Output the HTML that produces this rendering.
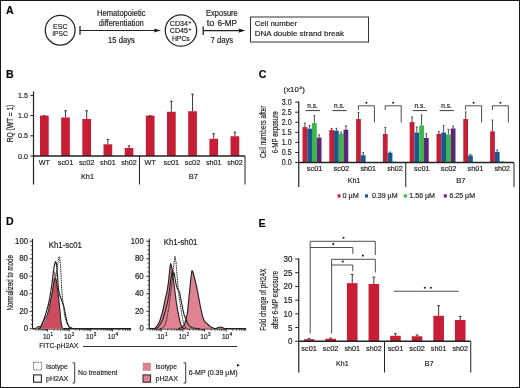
<!DOCTYPE html>
<html><head><meta charset="utf-8"><style>
html,body{margin:0;padding:0;background:#fff;}
svg{display:block;will-change:transform;font-family:"Liberation Sans", sans-serif;}
body{font-family:"Liberation Sans", sans-serif;}
text{stroke:#222;stroke-width:0.18px;font-family:"Liberation Sans", sans-serif;}
</style></head><body>
<svg width="520" height="388" viewBox="0 0 520 388" fill="#222">
<rect width="520" height="388" fill="#fff"/>
<rect x="0.5" y="0.5" width="519" height="387" fill="none" stroke="#1a1a1a" stroke-width="1"/>
<text x="6.00" y="14.00" font-size="10.6" font-weight="bold" fill="#000">A</text>
<circle cx="60.2" cy="30.2" r="14.9" fill="none" stroke="#222" stroke-width="1.25"/>
<text x="60.40" y="29.00" font-size="7.7" text-anchor="middle" textLength="14.60" lengthAdjust="spacingAndGlyphs">ESC</text>
<text x="60.20" y="36.30" font-size="7.7" text-anchor="middle" textLength="15.20" lengthAdjust="spacingAndGlyphs">iPSC</text>
<line x1="80.00" y1="26.10" x2="80.00" y2="34.80" stroke="#222" stroke-width="1.3"/>
<line x1="80.00" y1="30.50" x2="156.00" y2="30.50" stroke="#222" stroke-width="1.2"/>
<polygon points="160.90,30.50 153.60,28.40 155.20,30.50 153.60,32.60" fill="#111"/>
<text x="121.30" y="16.00" font-size="8.25" text-anchor="middle" textLength="48.50" lengthAdjust="spacingAndGlyphs">Hematopoietic</text>
<text x="121.30" y="25.70" font-size="8.25" text-anchor="middle" textLength="45.00" lengthAdjust="spacingAndGlyphs">differentiation</text>
<text x="121.50" y="42.80" font-size="8.25" text-anchor="middle" textLength="26.80" lengthAdjust="spacingAndGlyphs">15 days</text>
<circle cx="181" cy="30.5" r="15.7" fill="none" stroke="#222" stroke-width="1.25"/>
<text x="169.80" y="26.10" font-size="7.48" textLength="18.20" lengthAdjust="spacingAndGlyphs">CD34</text>
<text x="188.60" y="23.60" font-size="4.95">+</text>
<text x="169.80" y="33.00" font-size="7.48" textLength="18.20" lengthAdjust="spacingAndGlyphs">CD45</text>
<text x="188.60" y="30.50" font-size="4.95">+</text>
<text x="171.90" y="40.60" font-size="7.48" textLength="17.90" lengthAdjust="spacingAndGlyphs">HPCs</text>
<line x1="203.20" y1="26.40" x2="203.20" y2="35.10" stroke="#222" stroke-width="1.3"/>
<line x1="203.20" y1="30.60" x2="240.00" y2="30.60" stroke="#222" stroke-width="1.2"/>
<polygon points="245.40,30.60 238.10,28.50 239.70,30.60 238.10,32.70" fill="#111"/>
<text x="206.00" y="16.00" font-size="8.25" textLength="31.80" lengthAdjust="spacingAndGlyphs">Exposure</text>
<text x="206.70" y="25.80" font-size="8.25" textLength="7.60" lengthAdjust="spacingAndGlyphs">to</text>
<text x="217.50" y="25.80" font-size="8.25" textLength="19.60" lengthAdjust="spacingAndGlyphs">6-MP</text>
<text x="210.60" y="42.50" font-size="8.25" textLength="22.60" lengthAdjust="spacingAndGlyphs">7 days</text>
<rect x="250.5" y="17" width="118" height="25" fill="none" stroke="#333" stroke-width="1"/>
<text x="254.80" y="26.30" font-size="7.9" textLength="42.20" lengthAdjust="spacingAndGlyphs">Cell number</text>
<text x="254.80" y="36.40" font-size="7.9" textLength="89.20" lengthAdjust="spacingAndGlyphs">DNA double strand break</text>
<text x="6.00" y="78.00" font-size="10.6" font-weight="bold" fill="#000">B</text>
<line x1="33.50" y1="91.30" x2="33.50" y2="184.50" stroke="#222" stroke-width="1.2"/>
<line x1="30.30" y1="95.40" x2="33.50" y2="95.40" stroke="#222" stroke-width="1"/>
<text x="28.00" y="98.00" font-size="7.92" text-anchor="end" textLength="9.90" lengthAdjust="spacingAndGlyphs">1.5</text>
<line x1="30.30" y1="115.60" x2="33.50" y2="115.60" stroke="#222" stroke-width="1"/>
<text x="28.00" y="118.20" font-size="7.92" text-anchor="end" textLength="9.90" lengthAdjust="spacingAndGlyphs">1.0</text>
<line x1="30.30" y1="135.80" x2="33.50" y2="135.80" stroke="#222" stroke-width="1"/>
<text x="28.00" y="138.40" font-size="7.92" text-anchor="end" textLength="9.90" lengthAdjust="spacingAndGlyphs">0.5</text>
<line x1="30.30" y1="156.00" x2="33.50" y2="156.00" stroke="#222" stroke-width="1"/>
<text x="28.00" y="158.60" font-size="7.92" text-anchor="end" textLength="9.90" lengthAdjust="spacingAndGlyphs">0.0</text>
<text x="12.60" y="123.50" font-size="8.7" text-anchor="middle" textLength="37.60" lengthAdjust="spacingAndGlyphs" transform="rotate(-90 12.60 123.50)">RQ (WT = 1)</text>
<rect x="40.00" y="115.60" width="8.70" height="40.40" fill="#c71e35"/>
<line x1="43.15" y1="115.80" x2="45.55" y2="115.80" stroke="#222" stroke-width="0.9"/>
<text x="44.35" y="165.30" font-size="8.03" text-anchor="middle" textLength="11.20" lengthAdjust="spacingAndGlyphs">WT</text>
<line x1="65.52" y1="110.75" x2="65.52" y2="117.50" stroke="#222" stroke-width="0.9"/>
<line x1="64.22" y1="110.75" x2="66.82" y2="110.75" stroke="#222" stroke-width="0.9"/>
<rect x="61.17" y="117.50" width="8.70" height="38.50" fill="#c71e35"/>
<text x="65.52" y="165.30" font-size="8.03" text-anchor="middle" textLength="15.50" lengthAdjust="spacingAndGlyphs">sc01</text>
<line x1="86.69" y1="110.75" x2="86.69" y2="118.99" stroke="#222" stroke-width="0.9"/>
<line x1="85.39" y1="110.75" x2="87.99" y2="110.75" stroke="#222" stroke-width="0.9"/>
<rect x="82.34" y="118.99" width="8.70" height="37.01" fill="#c71e35"/>
<text x="86.69" y="165.30" font-size="8.03" text-anchor="middle" textLength="15.50" lengthAdjust="spacingAndGlyphs">sc02</text>
<line x1="107.86" y1="139.44" x2="107.86" y2="144.28" stroke="#222" stroke-width="0.9"/>
<line x1="106.56" y1="139.44" x2="109.16" y2="139.44" stroke="#222" stroke-width="0.9"/>
<rect x="103.51" y="144.28" width="8.70" height="11.72" fill="#c71e35"/>
<text x="107.86" y="165.30" font-size="8.03" text-anchor="middle" textLength="15.50" lengthAdjust="spacingAndGlyphs">sh01</text>
<line x1="129.03" y1="145.90" x2="129.03" y2="148.00" stroke="#222" stroke-width="0.9"/>
<line x1="127.73" y1="145.90" x2="130.33" y2="145.90" stroke="#222" stroke-width="0.9"/>
<rect x="124.68" y="148.00" width="8.70" height="8.00" fill="#c71e35"/>
<text x="129.03" y="165.30" font-size="8.03" text-anchor="middle" textLength="15.50" lengthAdjust="spacingAndGlyphs">sh02</text>
<rect x="145.85" y="115.60" width="8.70" height="40.40" fill="#c71e35"/>
<line x1="149.00" y1="115.80" x2="151.40" y2="115.80" stroke="#222" stroke-width="0.9"/>
<text x="150.20" y="165.30" font-size="8.03" text-anchor="middle" textLength="11.20" lengthAdjust="spacingAndGlyphs">WT</text>
<line x1="171.37" y1="101.26" x2="171.37" y2="111.76" stroke="#222" stroke-width="0.9"/>
<line x1="170.07" y1="101.26" x2="172.67" y2="101.26" stroke="#222" stroke-width="0.9"/>
<rect x="167.02" y="111.76" width="8.70" height="44.24" fill="#c71e35"/>
<text x="171.37" y="165.30" font-size="8.03" text-anchor="middle" textLength="15.50" lengthAdjust="spacingAndGlyphs">sc01</text>
<line x1="192.54" y1="94.19" x2="192.54" y2="111.24" stroke="#222" stroke-width="0.9"/>
<line x1="191.24" y1="94.19" x2="193.84" y2="94.19" stroke="#222" stroke-width="0.9"/>
<rect x="188.19" y="111.24" width="8.70" height="44.76" fill="#c71e35"/>
<text x="192.54" y="165.30" font-size="8.03" text-anchor="middle" textLength="15.50" lengthAdjust="spacingAndGlyphs">sc02</text>
<line x1="213.71" y1="133.78" x2="213.71" y2="138.75" stroke="#222" stroke-width="0.9"/>
<line x1="212.41" y1="133.78" x2="215.01" y2="133.78" stroke="#222" stroke-width="0.9"/>
<rect x="209.36" y="138.75" width="8.70" height="17.25" fill="#c71e35"/>
<text x="213.71" y="165.30" font-size="8.03" text-anchor="middle" textLength="15.50" lengthAdjust="spacingAndGlyphs">sh01</text>
<line x1="234.88" y1="132.16" x2="234.88" y2="136.24" stroke="#222" stroke-width="0.9"/>
<line x1="233.58" y1="132.16" x2="236.18" y2="132.16" stroke="#222" stroke-width="0.9"/>
<rect x="230.53" y="136.24" width="8.70" height="19.76" fill="#c71e35"/>
<text x="234.88" y="165.30" font-size="8.03" text-anchor="middle" textLength="15.50" lengthAdjust="spacingAndGlyphs">sh02</text>
<line x1="33.50" y1="156.00" x2="245.00" y2="156.00" stroke="#222" stroke-width="1.35"/>
<line x1="139.50" y1="156.00" x2="139.50" y2="184.50" stroke="#222" stroke-width="1"/>
<line x1="245.00" y1="156.00" x2="245.00" y2="184.50" stroke="#222" stroke-width="1"/>
<text x="87.50" y="178.80" font-size="8.03" text-anchor="middle" textLength="13.00" lengthAdjust="spacingAndGlyphs">Kh1</text>
<text x="193.40" y="178.80" font-size="8.03" text-anchor="middle" textLength="9.30" lengthAdjust="spacingAndGlyphs">B7</text>
<text x="258.80" y="78.00" font-size="10.6" font-weight="bold" fill="#000">C</text>
<text x="283.60" y="92.00" font-size="7.92" textLength="15.20" lengthAdjust="spacingAndGlyphs">(x10</text>
<text x="299.60" y="89.00" font-size="4.4">4</text>
<text x="302.20" y="92.00" font-size="7.92">)</text>
<line x1="298.75" y1="101.60" x2="298.75" y2="187.00" stroke="#222" stroke-width="1.2"/>
<line x1="295.20" y1="102.11" x2="298.75" y2="102.11" stroke="#222" stroke-width="1"/>
<text x="291.60" y="104.96" font-size="8.25" text-anchor="end" textLength="9.80" lengthAdjust="spacingAndGlyphs">3.0</text>
<line x1="295.20" y1="112.18" x2="298.75" y2="112.18" stroke="#222" stroke-width="1"/>
<text x="291.60" y="115.03" font-size="8.25" text-anchor="end" textLength="9.80" lengthAdjust="spacingAndGlyphs">2.5</text>
<line x1="295.20" y1="122.24" x2="298.75" y2="122.24" stroke="#222" stroke-width="1"/>
<text x="291.60" y="125.09" font-size="8.25" text-anchor="end" textLength="9.80" lengthAdjust="spacingAndGlyphs">2.0</text>
<line x1="295.20" y1="132.31" x2="298.75" y2="132.31" stroke="#222" stroke-width="1"/>
<text x="291.60" y="135.16" font-size="8.25" text-anchor="end" textLength="9.80" lengthAdjust="spacingAndGlyphs">1.5</text>
<line x1="295.20" y1="142.37" x2="298.75" y2="142.37" stroke="#222" stroke-width="1"/>
<text x="291.60" y="145.22" font-size="8.25" text-anchor="end" textLength="9.80" lengthAdjust="spacingAndGlyphs">1.0</text>
<line x1="295.20" y1="152.44" x2="298.75" y2="152.44" stroke="#222" stroke-width="1"/>
<text x="291.60" y="155.28" font-size="8.25" text-anchor="end" textLength="9.80" lengthAdjust="spacingAndGlyphs">0.5</text>
<line x1="295.20" y1="162.50" x2="298.75" y2="162.50" stroke="#222" stroke-width="1"/>
<text x="291.60" y="165.35" font-size="8.25" text-anchor="end" textLength="9.80" lengthAdjust="spacingAndGlyphs">0.0</text>
<text x="266.40" y="131.80" font-size="9.2" text-anchor="middle" textLength="52.60" lengthAdjust="spacingAndGlyphs" transform="rotate(-90 266.40 131.80)">Cell numbers after</text>
<text x="277.60" y="132.30" font-size="9.2" text-anchor="middle" textLength="42.00" lengthAdjust="spacingAndGlyphs" transform="rotate(-90 277.60 132.30)">6-MP exposure</text>
<line x1="304.88" y1="123.05" x2="304.88" y2="127.07" stroke="#222" stroke-width="0.8"/>
<line x1="303.98" y1="123.05" x2="305.77" y2="123.05" stroke="#222" stroke-width="0.8"/>
<rect x="302.50" y="127.07" width="4.75" height="35.43" fill="#c71e35"/>
<line x1="309.62" y1="125.66" x2="309.62" y2="128.68" stroke="#222" stroke-width="0.8"/>
<line x1="308.73" y1="125.66" x2="310.52" y2="125.66" stroke="#222" stroke-width="0.8"/>
<rect x="307.25" y="128.68" width="4.75" height="33.82" fill="#18588f"/>
<line x1="314.38" y1="115.60" x2="314.38" y2="123.05" stroke="#222" stroke-width="0.8"/>
<line x1="313.48" y1="115.60" x2="315.27" y2="115.60" stroke="#222" stroke-width="0.8"/>
<rect x="312.00" y="123.05" width="4.75" height="39.45" fill="#3bb64b"/>
<line x1="319.12" y1="134.92" x2="319.12" y2="137.54" stroke="#222" stroke-width="0.8"/>
<line x1="318.23" y1="134.92" x2="320.02" y2="134.92" stroke="#222" stroke-width="0.8"/>
<rect x="316.75" y="137.54" width="4.75" height="24.96" fill="#5b2673"/>
<text x="314.60" y="171.30" font-size="7.92" text-anchor="middle" textLength="15.60" lengthAdjust="spacingAndGlyphs">sc01</text>
<text x="312.55" y="108.20" font-size="6.93" text-anchor="middle" textLength="10.60" lengthAdjust="spacingAndGlyphs">n.s.</text>
<line x1="305.60" y1="110.60" x2="319.90" y2="110.60" stroke="#222" stroke-width="0.9"/>
<line x1="331.68" y1="128.48" x2="331.68" y2="130.09" stroke="#222" stroke-width="0.8"/>
<line x1="330.78" y1="128.48" x2="332.57" y2="128.48" stroke="#222" stroke-width="0.8"/>
<rect x="329.30" y="130.09" width="4.75" height="32.41" fill="#c71e35"/>
<line x1="336.43" y1="128.28" x2="336.43" y2="130.69" stroke="#222" stroke-width="0.8"/>
<line x1="335.53" y1="128.28" x2="337.32" y2="128.28" stroke="#222" stroke-width="0.8"/>
<rect x="334.05" y="130.69" width="4.75" height="31.81" fill="#18588f"/>
<line x1="341.18" y1="132.20" x2="341.18" y2="133.71" stroke="#222" stroke-width="0.8"/>
<line x1="340.28" y1="132.20" x2="342.07" y2="132.20" stroke="#222" stroke-width="0.8"/>
<rect x="338.80" y="133.71" width="4.75" height="28.79" fill="#3bb64b"/>
<line x1="345.93" y1="125.86" x2="345.93" y2="129.69" stroke="#222" stroke-width="0.8"/>
<line x1="345.03" y1="125.86" x2="346.82" y2="125.86" stroke="#222" stroke-width="0.8"/>
<rect x="343.55" y="129.69" width="4.75" height="32.81" fill="#5b2673"/>
<text x="341.40" y="171.30" font-size="7.92" text-anchor="middle" textLength="15.60" lengthAdjust="spacingAndGlyphs">sc02</text>
<text x="339.35" y="108.20" font-size="6.93" text-anchor="middle" textLength="10.60" lengthAdjust="spacingAndGlyphs">n.s.</text>
<line x1="332.40" y1="110.60" x2="346.70" y2="110.60" stroke="#222" stroke-width="0.9"/>
<line x1="358.48" y1="112.58" x2="358.48" y2="119.02" stroke="#222" stroke-width="0.8"/>
<line x1="357.58" y1="112.58" x2="359.38" y2="112.58" stroke="#222" stroke-width="0.8"/>
<rect x="356.10" y="119.02" width="4.75" height="43.48" fill="#c71e35"/>
<line x1="363.23" y1="152.44" x2="363.23" y2="155.25" stroke="#222" stroke-width="0.8"/>
<line x1="362.33" y1="152.44" x2="364.12" y2="152.44" stroke="#222" stroke-width="0.8"/>
<rect x="360.85" y="155.25" width="4.75" height="7.25" fill="#18588f"/>
<rect x="365.60" y="162.10" width="4.75" height="0.40" fill="#3bb64b"/>
<rect x="370.35" y="162.40" width="4.75" height="0.10" fill="#5b2673"/>
<text x="368.20" y="171.30" font-size="7.92" text-anchor="middle" textLength="15.60" lengthAdjust="spacingAndGlyphs">sh01</text>
<polyline points="358.40,110 358.40,105.8 374.40,105.8 374.40,122.5" fill="none" stroke="#222" stroke-width="0.8"/>
<circle cx="366.40" cy="102.80" r="1.05" fill="#222"/>
<line x1="385.27" y1="127.47" x2="385.27" y2="133.92" stroke="#222" stroke-width="0.8"/>
<line x1="384.38" y1="127.47" x2="386.17" y2="127.47" stroke="#222" stroke-width="0.8"/>
<rect x="382.90" y="133.92" width="4.75" height="28.58" fill="#c71e35"/>
<line x1="390.02" y1="152.03" x2="390.02" y2="152.84" stroke="#222" stroke-width="0.8"/>
<line x1="389.12" y1="152.03" x2="390.92" y2="152.03" stroke="#222" stroke-width="0.8"/>
<rect x="387.65" y="152.84" width="4.75" height="9.66" fill="#18588f"/>
<rect x="392.40" y="161.69" width="4.75" height="0.81" fill="#3bb64b"/>
<rect x="397.15" y="162.30" width="4.75" height="0.20" fill="#5b2673"/>
<text x="395.00" y="171.30" font-size="7.92" text-anchor="middle" textLength="15.60" lengthAdjust="spacingAndGlyphs">sh02</text>
<polyline points="385.20,110 385.20,105.8 401.20,105.8 401.20,122.5" fill="none" stroke="#222" stroke-width="0.8"/>
<circle cx="393.20" cy="102.80" r="1.05" fill="#222"/>
<line x1="412.07" y1="117.01" x2="412.07" y2="122.04" stroke="#222" stroke-width="0.8"/>
<line x1="411.18" y1="117.01" x2="412.97" y2="117.01" stroke="#222" stroke-width="0.8"/>
<rect x="409.70" y="122.04" width="4.75" height="40.46" fill="#c71e35"/>
<line x1="416.82" y1="127.07" x2="416.82" y2="132.51" stroke="#222" stroke-width="0.8"/>
<line x1="415.93" y1="127.07" x2="417.72" y2="127.07" stroke="#222" stroke-width="0.8"/>
<rect x="414.45" y="132.51" width="4.75" height="29.99" fill="#18588f"/>
<line x1="421.57" y1="114.99" x2="421.57" y2="125.46" stroke="#222" stroke-width="0.8"/>
<line x1="420.68" y1="114.99" x2="422.47" y2="114.99" stroke="#222" stroke-width="0.8"/>
<rect x="419.20" y="125.46" width="4.75" height="37.04" fill="#3bb64b"/>
<line x1="426.32" y1="133.71" x2="426.32" y2="137.94" stroke="#222" stroke-width="0.8"/>
<line x1="425.43" y1="133.71" x2="427.22" y2="133.71" stroke="#222" stroke-width="0.8"/>
<rect x="423.95" y="137.94" width="4.75" height="24.56" fill="#5b2673"/>
<text x="421.80" y="171.30" font-size="7.92" text-anchor="middle" textLength="15.60" lengthAdjust="spacingAndGlyphs">sc01</text>
<text x="419.75" y="108.20" font-size="6.93" text-anchor="middle" textLength="10.60" lengthAdjust="spacingAndGlyphs">n.s.</text>
<line x1="412.80" y1="110.60" x2="427.10" y2="110.60" stroke="#222" stroke-width="0.9"/>
<line x1="438.88" y1="131.70" x2="438.88" y2="133.92" stroke="#222" stroke-width="0.8"/>
<line x1="437.98" y1="131.70" x2="439.77" y2="131.70" stroke="#222" stroke-width="0.8"/>
<rect x="436.50" y="133.92" width="4.75" height="28.58" fill="#c71e35"/>
<line x1="443.62" y1="125.66" x2="443.62" y2="132.51" stroke="#222" stroke-width="0.8"/>
<line x1="442.73" y1="125.66" x2="444.52" y2="125.66" stroke="#222" stroke-width="0.8"/>
<rect x="441.25" y="132.51" width="4.75" height="29.99" fill="#18588f"/>
<line x1="448.38" y1="129.49" x2="448.38" y2="134.52" stroke="#222" stroke-width="0.8"/>
<line x1="447.48" y1="129.49" x2="449.27" y2="129.49" stroke="#222" stroke-width="0.8"/>
<rect x="446.00" y="134.52" width="4.75" height="27.98" fill="#3bb64b"/>
<line x1="453.12" y1="126.06" x2="453.12" y2="128.48" stroke="#222" stroke-width="0.8"/>
<line x1="452.23" y1="126.06" x2="454.02" y2="126.06" stroke="#222" stroke-width="0.8"/>
<rect x="450.75" y="128.48" width="4.75" height="34.02" fill="#5b2673"/>
<text x="448.60" y="171.30" font-size="7.92" text-anchor="middle" textLength="15.60" lengthAdjust="spacingAndGlyphs">sc02</text>
<text x="446.55" y="108.20" font-size="6.93" text-anchor="middle" textLength="10.60" lengthAdjust="spacingAndGlyphs">n.s.</text>
<line x1="439.60" y1="110.60" x2="453.90" y2="110.60" stroke="#222" stroke-width="0.9"/>
<line x1="465.68" y1="111.97" x2="465.68" y2="119.02" stroke="#222" stroke-width="0.8"/>
<line x1="464.78" y1="111.97" x2="466.57" y2="111.97" stroke="#222" stroke-width="0.8"/>
<rect x="463.30" y="119.02" width="4.75" height="43.48" fill="#c71e35"/>
<line x1="470.43" y1="154.45" x2="470.43" y2="155.45" stroke="#222" stroke-width="0.8"/>
<line x1="469.53" y1="154.45" x2="471.32" y2="154.45" stroke="#222" stroke-width="0.8"/>
<rect x="468.05" y="155.45" width="4.75" height="7.05" fill="#18588f"/>
<rect x="472.80" y="162.30" width="4.75" height="0.20" fill="#3bb64b"/>
<text x="475.40" y="171.30" font-size="7.92" text-anchor="middle" textLength="15.60" lengthAdjust="spacingAndGlyphs">sh01</text>
<polyline points="465.60,110 465.60,105.8 481.60,105.8 481.60,122.5" fill="none" stroke="#222" stroke-width="0.8"/>
<circle cx="473.60" cy="102.80" r="1.05" fill="#222"/>
<line x1="492.48" y1="120.03" x2="492.48" y2="131.30" stroke="#222" stroke-width="0.8"/>
<line x1="491.58" y1="120.03" x2="493.38" y2="120.03" stroke="#222" stroke-width="0.8"/>
<rect x="490.10" y="131.30" width="4.75" height="31.20" fill="#c71e35"/>
<line x1="497.23" y1="150.02" x2="497.23" y2="152.03" stroke="#222" stroke-width="0.8"/>
<line x1="496.33" y1="150.02" x2="498.12" y2="150.02" stroke="#222" stroke-width="0.8"/>
<rect x="494.85" y="152.03" width="4.75" height="10.47" fill="#18588f"/>
<rect x="499.60" y="161.49" width="4.75" height="1.01" fill="#3bb64b"/>
<rect x="504.35" y="162.30" width="4.75" height="0.20" fill="#5b2673"/>
<text x="502.20" y="171.30" font-size="7.92" text-anchor="middle" textLength="15.60" lengthAdjust="spacingAndGlyphs">sh02</text>
<polyline points="492.40,110 492.40,105.8 508.40,105.8 508.40,122.5" fill="none" stroke="#222" stroke-width="0.8"/>
<circle cx="500.40" cy="102.80" r="1.05" fill="#222"/>
<line x1="298.75" y1="162.50" x2="514.00" y2="162.50" stroke="#222" stroke-width="1.35"/>
<line x1="405.75" y1="162.50" x2="405.75" y2="187.00" stroke="#222" stroke-width="1"/>
<line x1="514.00" y1="162.50" x2="514.00" y2="187.00" stroke="#222" stroke-width="1"/>
<text x="354.00" y="183.10" font-size="8.03" text-anchor="middle" textLength="12.50" lengthAdjust="spacingAndGlyphs">Kh1</text>
<text x="460.90" y="183.10" font-size="8.03" text-anchor="middle" textLength="9.30" lengthAdjust="spacingAndGlyphs">B7</text>
<rect x="337.50" y="194.30" width="3.00" height="3.20" fill="#c71e35"/>
<text x="342.50" y="198.20" font-size="7.92" textLength="16.30" lengthAdjust="spacingAndGlyphs">0 µM</text>
<rect x="365.00" y="194.30" width="3.00" height="3.20" fill="#18588f"/>
<text x="372.00" y="198.20" font-size="7.92" textLength="25.50" lengthAdjust="spacingAndGlyphs">0.39 µM</text>
<rect x="403.80" y="194.30" width="3.00" height="3.20" fill="#3bb64b"/>
<text x="409.30" y="198.20" font-size="7.92" textLength="25.70" lengthAdjust="spacingAndGlyphs">1.56 µM</text>
<rect x="443.80" y="194.30" width="3.00" height="3.20" fill="#5b2673"/>
<text x="449.50" y="198.20" font-size="7.92" textLength="25.50" lengthAdjust="spacingAndGlyphs">6.25 µM</text>
<text x="6.00" y="225.00" font-size="10.6" font-weight="bold" fill="#000">D</text>
<line x1="32.50" y1="238.70" x2="32.50" y2="328.75" stroke="#222" stroke-width="1.2"/>
<line x1="29.50" y1="328.75" x2="32.50" y2="328.75" stroke="#222" stroke-width="0.9"/>
<text x="28.00" y="331.45" font-size="8.14" text-anchor="end" textLength="4.30" lengthAdjust="spacingAndGlyphs">0</text>
<line x1="30.70" y1="324.38" x2="32.50" y2="324.38" stroke="#222" stroke-width="0.7"/>
<line x1="30.70" y1="320.00" x2="32.50" y2="320.00" stroke="#222" stroke-width="0.7"/>
<line x1="30.70" y1="315.62" x2="32.50" y2="315.62" stroke="#222" stroke-width="0.7"/>
<line x1="29.50" y1="311.25" x2="32.50" y2="311.25" stroke="#222" stroke-width="0.9"/>
<text x="28.00" y="313.95" font-size="8.14" text-anchor="end" textLength="8.80" lengthAdjust="spacingAndGlyphs">20</text>
<line x1="30.70" y1="306.88" x2="32.50" y2="306.88" stroke="#222" stroke-width="0.7"/>
<line x1="30.70" y1="302.50" x2="32.50" y2="302.50" stroke="#222" stroke-width="0.7"/>
<line x1="30.70" y1="298.12" x2="32.50" y2="298.12" stroke="#222" stroke-width="0.7"/>
<line x1="29.50" y1="293.75" x2="32.50" y2="293.75" stroke="#222" stroke-width="0.9"/>
<text x="28.00" y="296.45" font-size="8.14" text-anchor="end" textLength="8.80" lengthAdjust="spacingAndGlyphs">40</text>
<line x1="30.70" y1="289.38" x2="32.50" y2="289.38" stroke="#222" stroke-width="0.7"/>
<line x1="30.70" y1="285.00" x2="32.50" y2="285.00" stroke="#222" stroke-width="0.7"/>
<line x1="30.70" y1="280.62" x2="32.50" y2="280.62" stroke="#222" stroke-width="0.7"/>
<line x1="29.50" y1="276.25" x2="32.50" y2="276.25" stroke="#222" stroke-width="0.9"/>
<text x="28.00" y="278.95" font-size="8.14" text-anchor="end" textLength="8.80" lengthAdjust="spacingAndGlyphs">60</text>
<line x1="30.70" y1="271.88" x2="32.50" y2="271.88" stroke="#222" stroke-width="0.7"/>
<line x1="30.70" y1="267.50" x2="32.50" y2="267.50" stroke="#222" stroke-width="0.7"/>
<line x1="30.70" y1="263.12" x2="32.50" y2="263.12" stroke="#222" stroke-width="0.7"/>
<line x1="29.50" y1="258.75" x2="32.50" y2="258.75" stroke="#222" stroke-width="0.9"/>
<text x="28.00" y="261.45" font-size="8.14" text-anchor="end" textLength="8.80" lengthAdjust="spacingAndGlyphs">80</text>
<line x1="30.70" y1="254.38" x2="32.50" y2="254.38" stroke="#222" stroke-width="0.7"/>
<line x1="30.70" y1="250.00" x2="32.50" y2="250.00" stroke="#222" stroke-width="0.7"/>
<line x1="30.70" y1="245.62" x2="32.50" y2="245.62" stroke="#222" stroke-width="0.7"/>
<line x1="29.50" y1="241.25" x2="32.50" y2="241.25" stroke="#222" stroke-width="0.9"/>
<text x="28.00" y="243.95" font-size="8.14" text-anchor="end" textLength="12.90" lengthAdjust="spacingAndGlyphs">100</text>
<line x1="32.50" y1="328.75" x2="131.00" y2="328.75" stroke="#222" stroke-width="1.3"/>
<line x1="149.25" y1="238.70" x2="149.25" y2="328.75" stroke="#222" stroke-width="1.2"/>
<line x1="146.25" y1="328.75" x2="149.25" y2="328.75" stroke="#222" stroke-width="0.9"/>
<text x="143.70" y="331.45" font-size="8.14" text-anchor="end" textLength="4.30" lengthAdjust="spacingAndGlyphs">0</text>
<line x1="147.45" y1="324.38" x2="149.25" y2="324.38" stroke="#222" stroke-width="0.7"/>
<line x1="147.45" y1="320.00" x2="149.25" y2="320.00" stroke="#222" stroke-width="0.7"/>
<line x1="147.45" y1="315.62" x2="149.25" y2="315.62" stroke="#222" stroke-width="0.7"/>
<line x1="146.25" y1="311.25" x2="149.25" y2="311.25" stroke="#222" stroke-width="0.9"/>
<text x="143.70" y="313.95" font-size="8.14" text-anchor="end" textLength="8.80" lengthAdjust="spacingAndGlyphs">20</text>
<line x1="147.45" y1="306.88" x2="149.25" y2="306.88" stroke="#222" stroke-width="0.7"/>
<line x1="147.45" y1="302.50" x2="149.25" y2="302.50" stroke="#222" stroke-width="0.7"/>
<line x1="147.45" y1="298.12" x2="149.25" y2="298.12" stroke="#222" stroke-width="0.7"/>
<line x1="146.25" y1="293.75" x2="149.25" y2="293.75" stroke="#222" stroke-width="0.9"/>
<text x="143.70" y="296.45" font-size="8.14" text-anchor="end" textLength="8.80" lengthAdjust="spacingAndGlyphs">40</text>
<line x1="147.45" y1="289.38" x2="149.25" y2="289.38" stroke="#222" stroke-width="0.7"/>
<line x1="147.45" y1="285.00" x2="149.25" y2="285.00" stroke="#222" stroke-width="0.7"/>
<line x1="147.45" y1="280.62" x2="149.25" y2="280.62" stroke="#222" stroke-width="0.7"/>
<line x1="146.25" y1="276.25" x2="149.25" y2="276.25" stroke="#222" stroke-width="0.9"/>
<text x="143.70" y="278.95" font-size="8.14" text-anchor="end" textLength="8.80" lengthAdjust="spacingAndGlyphs">60</text>
<line x1="147.45" y1="271.88" x2="149.25" y2="271.88" stroke="#222" stroke-width="0.7"/>
<line x1="147.45" y1="267.50" x2="149.25" y2="267.50" stroke="#222" stroke-width="0.7"/>
<line x1="147.45" y1="263.12" x2="149.25" y2="263.12" stroke="#222" stroke-width="0.7"/>
<line x1="146.25" y1="258.75" x2="149.25" y2="258.75" stroke="#222" stroke-width="0.9"/>
<text x="143.70" y="261.45" font-size="8.14" text-anchor="end" textLength="8.80" lengthAdjust="spacingAndGlyphs">80</text>
<line x1="147.45" y1="254.38" x2="149.25" y2="254.38" stroke="#222" stroke-width="0.7"/>
<line x1="147.45" y1="250.00" x2="149.25" y2="250.00" stroke="#222" stroke-width="0.7"/>
<line x1="147.45" y1="245.62" x2="149.25" y2="245.62" stroke="#222" stroke-width="0.7"/>
<line x1="146.25" y1="241.25" x2="149.25" y2="241.25" stroke="#222" stroke-width="0.9"/>
<text x="143.70" y="243.95" font-size="8.14" text-anchor="end" textLength="12.90" lengthAdjust="spacingAndGlyphs">100</text>
<line x1="149.25" y1="328.75" x2="246.00" y2="328.75" stroke="#222" stroke-width="1.3"/>
<text x="48.70" y="248.20" font-size="8.58" textLength="33.30" lengthAdjust="spacingAndGlyphs">Kh1-sc01</text>
<text x="163.70" y="245.30" font-size="8.58" textLength="33.80" lengthAdjust="spacingAndGlyphs">Kh1-sh01</text>
<text x="12.80" y="282.80" font-size="8.8" text-anchor="middle" textLength="55.40" lengthAdjust="spacingAndGlyphs" transform="rotate(-90 12.80 282.80)" stroke="#222" stroke-width="0.2">Normalized to mode</text>
<line x1="36.18" y1="328.75" x2="36.18" y2="330.75" stroke="#222" stroke-width="0.75"/>
<line x1="38.88" y1="328.75" x2="38.88" y2="330.75" stroke="#222" stroke-width="0.75"/>
<line x1="40.98" y1="328.75" x2="40.98" y2="330.75" stroke="#222" stroke-width="0.75"/>
<line x1="42.70" y1="328.75" x2="42.70" y2="330.75" stroke="#222" stroke-width="0.75"/>
<line x1="44.15" y1="328.75" x2="44.15" y2="330.75" stroke="#222" stroke-width="0.75"/>
<line x1="45.40" y1="328.75" x2="45.40" y2="330.75" stroke="#222" stroke-width="0.75"/>
<line x1="46.51" y1="328.75" x2="46.51" y2="330.75" stroke="#222" stroke-width="0.75"/>
<line x1="47.50" y1="328.75" x2="47.50" y2="331.55" stroke="#222" stroke-width="0.9"/>
<line x1="54.02" y1="328.75" x2="54.02" y2="330.75" stroke="#222" stroke-width="0.75"/>
<line x1="57.83" y1="328.75" x2="57.83" y2="330.75" stroke="#222" stroke-width="0.75"/>
<line x1="60.53" y1="328.75" x2="60.53" y2="330.75" stroke="#222" stroke-width="0.75"/>
<line x1="62.63" y1="328.75" x2="62.63" y2="330.75" stroke="#222" stroke-width="0.75"/>
<line x1="64.35" y1="328.75" x2="64.35" y2="330.75" stroke="#222" stroke-width="0.75"/>
<line x1="65.80" y1="328.75" x2="65.80" y2="330.75" stroke="#222" stroke-width="0.75"/>
<line x1="67.05" y1="328.75" x2="67.05" y2="330.75" stroke="#222" stroke-width="0.75"/>
<line x1="68.16" y1="328.75" x2="68.16" y2="330.75" stroke="#222" stroke-width="0.75"/>
<line x1="69.15" y1="328.75" x2="69.15" y2="331.55" stroke="#222" stroke-width="0.9"/>
<line x1="75.67" y1="328.75" x2="75.67" y2="330.75" stroke="#222" stroke-width="0.75"/>
<line x1="79.48" y1="328.75" x2="79.48" y2="330.75" stroke="#222" stroke-width="0.75"/>
<line x1="82.18" y1="328.75" x2="82.18" y2="330.75" stroke="#222" stroke-width="0.75"/>
<line x1="84.28" y1="328.75" x2="84.28" y2="330.75" stroke="#222" stroke-width="0.75"/>
<line x1="86.00" y1="328.75" x2="86.00" y2="330.75" stroke="#222" stroke-width="0.75"/>
<line x1="87.45" y1="328.75" x2="87.45" y2="330.75" stroke="#222" stroke-width="0.75"/>
<line x1="88.70" y1="328.75" x2="88.70" y2="330.75" stroke="#222" stroke-width="0.75"/>
<line x1="89.81" y1="328.75" x2="89.81" y2="330.75" stroke="#222" stroke-width="0.75"/>
<line x1="90.80" y1="328.75" x2="90.80" y2="331.55" stroke="#222" stroke-width="0.9"/>
<line x1="97.32" y1="328.75" x2="97.32" y2="330.75" stroke="#222" stroke-width="0.75"/>
<line x1="101.13" y1="328.75" x2="101.13" y2="330.75" stroke="#222" stroke-width="0.75"/>
<line x1="103.83" y1="328.75" x2="103.83" y2="330.75" stroke="#222" stroke-width="0.75"/>
<line x1="105.93" y1="328.75" x2="105.93" y2="330.75" stroke="#222" stroke-width="0.75"/>
<line x1="107.65" y1="328.75" x2="107.65" y2="330.75" stroke="#222" stroke-width="0.75"/>
<line x1="109.10" y1="328.75" x2="109.10" y2="330.75" stroke="#222" stroke-width="0.75"/>
<line x1="110.35" y1="328.75" x2="110.35" y2="330.75" stroke="#222" stroke-width="0.75"/>
<line x1="111.46" y1="328.75" x2="111.46" y2="330.75" stroke="#222" stroke-width="0.75"/>
<line x1="112.45" y1="328.75" x2="112.45" y2="331.55" stroke="#222" stroke-width="0.9"/>
<line x1="118.97" y1="328.75" x2="118.97" y2="330.75" stroke="#222" stroke-width="0.75"/>
<line x1="122.78" y1="328.75" x2="122.78" y2="330.75" stroke="#222" stroke-width="0.75"/>
<line x1="125.48" y1="328.75" x2="125.48" y2="330.75" stroke="#222" stroke-width="0.75"/>
<line x1="127.58" y1="328.75" x2="127.58" y2="330.75" stroke="#222" stroke-width="0.75"/>
<line x1="129.30" y1="328.75" x2="129.30" y2="330.75" stroke="#222" stroke-width="0.75"/>
<line x1="130.75" y1="328.75" x2="130.75" y2="330.75" stroke="#222" stroke-width="0.75"/>
<line x1="149.98" y1="328.75" x2="149.98" y2="330.75" stroke="#222" stroke-width="0.75"/>
<line x1="152.68" y1="328.75" x2="152.68" y2="330.75" stroke="#222" stroke-width="0.75"/>
<line x1="154.78" y1="328.75" x2="154.78" y2="330.75" stroke="#222" stroke-width="0.75"/>
<line x1="156.50" y1="328.75" x2="156.50" y2="330.75" stroke="#222" stroke-width="0.75"/>
<line x1="157.95" y1="328.75" x2="157.95" y2="330.75" stroke="#222" stroke-width="0.75"/>
<line x1="159.20" y1="328.75" x2="159.20" y2="330.75" stroke="#222" stroke-width="0.75"/>
<line x1="160.31" y1="328.75" x2="160.31" y2="330.75" stroke="#222" stroke-width="0.75"/>
<line x1="161.30" y1="328.75" x2="161.30" y2="331.55" stroke="#222" stroke-width="0.9"/>
<line x1="167.82" y1="328.75" x2="167.82" y2="330.75" stroke="#222" stroke-width="0.75"/>
<line x1="171.63" y1="328.75" x2="171.63" y2="330.75" stroke="#222" stroke-width="0.75"/>
<line x1="174.33" y1="328.75" x2="174.33" y2="330.75" stroke="#222" stroke-width="0.75"/>
<line x1="176.43" y1="328.75" x2="176.43" y2="330.75" stroke="#222" stroke-width="0.75"/>
<line x1="178.15" y1="328.75" x2="178.15" y2="330.75" stroke="#222" stroke-width="0.75"/>
<line x1="179.60" y1="328.75" x2="179.60" y2="330.75" stroke="#222" stroke-width="0.75"/>
<line x1="180.85" y1="328.75" x2="180.85" y2="330.75" stroke="#222" stroke-width="0.75"/>
<line x1="181.96" y1="328.75" x2="181.96" y2="330.75" stroke="#222" stroke-width="0.75"/>
<line x1="182.95" y1="328.75" x2="182.95" y2="331.55" stroke="#222" stroke-width="0.9"/>
<line x1="189.47" y1="328.75" x2="189.47" y2="330.75" stroke="#222" stroke-width="0.75"/>
<line x1="193.28" y1="328.75" x2="193.28" y2="330.75" stroke="#222" stroke-width="0.75"/>
<line x1="195.98" y1="328.75" x2="195.98" y2="330.75" stroke="#222" stroke-width="0.75"/>
<line x1="198.08" y1="328.75" x2="198.08" y2="330.75" stroke="#222" stroke-width="0.75"/>
<line x1="199.80" y1="328.75" x2="199.80" y2="330.75" stroke="#222" stroke-width="0.75"/>
<line x1="201.25" y1="328.75" x2="201.25" y2="330.75" stroke="#222" stroke-width="0.75"/>
<line x1="202.50" y1="328.75" x2="202.50" y2="330.75" stroke="#222" stroke-width="0.75"/>
<line x1="203.61" y1="328.75" x2="203.61" y2="330.75" stroke="#222" stroke-width="0.75"/>
<line x1="204.60" y1="328.75" x2="204.60" y2="331.55" stroke="#222" stroke-width="0.9"/>
<line x1="211.12" y1="328.75" x2="211.12" y2="330.75" stroke="#222" stroke-width="0.75"/>
<line x1="214.93" y1="328.75" x2="214.93" y2="330.75" stroke="#222" stroke-width="0.75"/>
<line x1="217.63" y1="328.75" x2="217.63" y2="330.75" stroke="#222" stroke-width="0.75"/>
<line x1="219.73" y1="328.75" x2="219.73" y2="330.75" stroke="#222" stroke-width="0.75"/>
<line x1="221.45" y1="328.75" x2="221.45" y2="330.75" stroke="#222" stroke-width="0.75"/>
<line x1="222.90" y1="328.75" x2="222.90" y2="330.75" stroke="#222" stroke-width="0.75"/>
<line x1="224.15" y1="328.75" x2="224.15" y2="330.75" stroke="#222" stroke-width="0.75"/>
<line x1="225.26" y1="328.75" x2="225.26" y2="330.75" stroke="#222" stroke-width="0.75"/>
<line x1="226.25" y1="328.75" x2="226.25" y2="331.55" stroke="#222" stroke-width="0.9"/>
<line x1="232.77" y1="328.75" x2="232.77" y2="330.75" stroke="#222" stroke-width="0.75"/>
<line x1="236.58" y1="328.75" x2="236.58" y2="330.75" stroke="#222" stroke-width="0.75"/>
<line x1="239.28" y1="328.75" x2="239.28" y2="330.75" stroke="#222" stroke-width="0.75"/>
<line x1="241.38" y1="328.75" x2="241.38" y2="330.75" stroke="#222" stroke-width="0.75"/>
<line x1="243.10" y1="328.75" x2="243.10" y2="330.75" stroke="#222" stroke-width="0.75"/>
<line x1="244.55" y1="328.75" x2="244.55" y2="330.75" stroke="#222" stroke-width="0.75"/>
<line x1="245.80" y1="328.75" x2="245.80" y2="330.75" stroke="#222" stroke-width="0.75"/>
<text x="42.90" y="339.10" font-size="7.37" textLength="7.30" lengthAdjust="spacingAndGlyphs">10</text>
<text x="50.60" y="336.20" font-size="4.62">1</text>
<text x="64.00" y="339.10" font-size="7.37" textLength="7.30" lengthAdjust="spacingAndGlyphs">10</text>
<text x="71.70" y="336.20" font-size="4.62">2</text>
<text x="86.10" y="339.10" font-size="7.37" textLength="7.30" lengthAdjust="spacingAndGlyphs">10</text>
<text x="93.80" y="336.20" font-size="4.62">3</text>
<text x="107.80" y="339.10" font-size="7.37" textLength="7.30" lengthAdjust="spacingAndGlyphs">10</text>
<text x="115.50" y="336.20" font-size="4.62">4</text>
<text x="157.20" y="339.10" font-size="7.37" textLength="7.30" lengthAdjust="spacingAndGlyphs">10</text>
<text x="164.90" y="336.20" font-size="4.62">1</text>
<text x="178.70" y="339.10" font-size="7.37" textLength="7.30" lengthAdjust="spacingAndGlyphs">10</text>
<text x="186.40" y="336.20" font-size="4.62">2</text>
<text x="200.30" y="339.10" font-size="7.37" textLength="7.30" lengthAdjust="spacingAndGlyphs">10</text>
<text x="208.00" y="336.20" font-size="4.62">3</text>
<text x="221.90" y="339.10" font-size="7.37" textLength="7.30" lengthAdjust="spacingAndGlyphs">10</text>
<text x="229.60" y="336.20" font-size="4.62">4</text>
<text x="39.20" y="348.40" font-size="8.03" textLength="39.20" lengthAdjust="spacingAndGlyphs">FITC-pH2AX</text>
<line x1="83.10" y1="346.50" x2="237.20" y2="346.50" stroke="#333" stroke-width="1"/>
<path d="M40.00,328.75 L42.20,328.00 L44.80,322.50 L47.30,317.00 L49.30,309.50 L51.00,300.00 L52.50,292.00 L53.40,283.00 L54.10,275.00 L54.60,271.50 L55.30,273.00 L56.00,278.00 L56.80,285.00 L57.60,293.00 L58.50,300.00 L59.50,308.60 L60.20,315.00 L60.70,321.00 L61.50,326.00 L62.30,328.50 L64.00,328.75 Z" fill="#e18291" stroke="none"/>
<path d="M35.00,328.75 L36.50,327.50 L38.50,326.30 L40.00,326.80 L41.50,325.00 L43.00,321.50 L45.00,318.50 L47.00,315.50 L48.80,309.00 L50.50,301.00 L52.00,293.00 L53.40,285.00 L54.40,280.00 L55.30,277.70 L56.20,280.00 L57.20,287.00 L58.00,293.00 L59.00,301.00 L59.80,309.00 L60.50,317.00 L61.20,323.00 L62.20,327.50 L63.50,328.75 Z" fill="#e18291" stroke="none"/>
<clipPath id="clipL"><path d="M40.00,328.75 L42.20,328.00 L44.80,322.50 L47.30,317.00 L49.30,309.50 L51.00,300.00 L52.50,292.00 L53.40,283.00 L54.10,275.00 L54.60,271.50 L55.30,273.00 L56.00,278.00 L56.80,285.00 L57.60,293.00 L58.50,300.00 L59.50,308.60 L60.20,315.00 L60.70,321.00 L61.50,326.00 L62.30,328.50 L64.00,328.75 Z"/></clipPath>
<path d="M35.00,328.75 L36.50,327.50 L38.50,326.30 L40.00,326.80 L41.50,325.00 L43.00,321.50 L45.00,318.50 L47.00,315.50 L48.80,309.00 L50.50,301.00 L52.00,293.00 L53.40,285.00 L54.40,280.00 L55.30,277.70 L56.20,280.00 L57.20,287.00 L58.00,293.00 L59.00,301.00 L59.80,309.00 L60.50,317.00 L61.20,323.00 L62.20,327.50 L63.50,328.75 Z" fill="#cd4b5f" clip-path="url(#clipL)"/>
<path d="M40.00,328.75 L42.20,328.00 L44.80,322.50 L47.30,317.00 L49.30,309.50 L51.00,300.00 L52.50,292.00 L53.40,283.00 L54.10,275.00 L54.60,271.50 L55.30,273.00 L56.00,278.00 L56.80,285.00 L57.60,293.00 L58.50,300.00 L59.50,308.60 L60.20,315.00 L60.70,321.00 L61.50,326.00 L62.30,328.50 L64.00,328.75" fill="none" stroke="#555" stroke-width="0.5" stroke-linejoin="round"/>
<path d="M35.00,328.75 L36.50,327.50 L38.50,326.30 L40.00,326.80 L41.50,325.00 L43.00,321.50 L45.00,318.50 L47.00,315.50 L48.80,309.00 L50.50,301.00 L52.00,293.00 L53.40,285.00 L54.40,280.00 L55.30,277.70 L56.20,280.00 L57.20,287.00 L58.00,293.00 L59.00,301.00 L59.80,309.00 L60.50,317.00 L61.20,323.00 L62.20,327.50 L63.50,328.75" fill="none" stroke="#222" stroke-width="1.0" stroke-linejoin="round"/>
<path d="M56.00,276.00 L57.50,266.00 L58.70,257.00 L59.60,256.80 L60.30,262.00 L61.00,275.00 L61.70,290.00 L63.00,303.00 L64.90,317.00 L67.00,324.00 L71.00,328.00 L75.00,328.75" fill="none" stroke="#111" stroke-width="1.0" stroke-linejoin="round" stroke-dasharray="1.1,0.7"/>
<path d="M38.00,328.75 L40.00,328.00 L41.00,327.00 L43.70,320.00 L46.00,313.00 L48.00,306.00 L49.40,300.00 L50.50,293.00 L51.00,290.00 L52.00,284.00 L53.00,275.00 L54.00,267.00 L55.40,261.60 L56.30,263.00 L57.00,268.00 L57.80,280.00 L58.50,290.00 L60.00,296.00 L61.50,300.00 L63.80,306.00 L65.00,312.00 L66.00,317.60 L67.00,322.00 L69.00,327.00 L72.00,328.20 L80.00,328.75 L130.00,328.75" fill="none" stroke="#222" stroke-width="1.15" stroke-linejoin="round"/>
<path d="M153.00,328.75 L155.30,328.00 L157.00,326.00 L159.50,321.90 L162.70,311.30 L165.00,300.00 L166.90,292.30 L168.50,282.00 L169.50,272.00 L170.50,263.70 L171.50,266.00 L172.50,272.00 L173.70,281.70 L175.00,292.00 L176.40,302.90 L178.00,312.00 L179.60,319.80 L181.00,325.00 L182.80,328.00 L185.00,328.75 Z" fill="#e18291" stroke="none"/>
<path d="M178.00,328.75 L182.00,327.50 L184.70,324.00 L186.00,319.00 L187.40,313.40 L188.50,302.00 L189.50,292.30 L190.50,282.00 L191.30,275.00 L192.00,270.50 L193.00,272.00 L194.50,278.00 L196.90,288.00 L198.80,298.00 L200.50,307.00 L202.00,314.00 L203.70,319.80 L205.50,322.50 L207.50,324.00 L210.00,326.50 L213.80,328.30 L216.00,328.50 L217.50,327.80 L220.60,327.00 L223.00,327.80 L225.00,328.75 Z" fill="#e18291" stroke="none"/>
<clipPath id="clipR"><path d="M153.00,328.75 L155.30,328.00 L157.00,326.00 L159.50,321.90 L162.70,311.30 L165.00,300.00 L166.90,292.30 L168.50,282.00 L169.50,272.00 L170.50,263.70 L171.50,266.00 L172.50,272.00 L173.70,281.70 L175.00,292.00 L176.40,302.90 L178.00,312.00 L179.60,319.80 L181.00,325.00 L182.80,328.00 L185.00,328.75 Z"/></clipPath>
<path d="M178.00,328.75 L182.00,327.50 L184.70,324.00 L186.00,319.00 L187.40,313.40 L188.50,302.00 L189.50,292.30 L190.50,282.00 L191.30,275.00 L192.00,270.50 L193.00,272.00 L194.50,278.00 L196.90,288.00 L198.80,298.00 L200.50,307.00 L202.00,314.00 L203.70,319.80 L205.50,322.50 L207.50,324.00 L210.00,326.50 L213.80,328.30 L216.00,328.50 L217.50,327.80 L220.60,327.00 L223.00,327.80 L225.00,328.75 Z" fill="#cd4b5f" clip-path="url(#clipR)"/>
<path d="M153.00,328.75 L155.30,328.00 L157.00,326.00 L159.50,321.90 L162.70,311.30 L165.00,300.00 L166.90,292.30 L168.50,282.00 L169.50,272.00 L170.50,263.70 L171.50,266.00 L172.50,272.00 L173.70,281.70 L175.00,292.00 L176.40,302.90 L178.00,312.00 L179.60,319.80 L181.00,325.00 L182.80,328.00 L185.00,328.75" fill="none" stroke="#222" stroke-width="1.15" stroke-linejoin="round"/>
<path d="M178.00,328.75 L182.00,327.50 L184.70,324.00 L186.00,319.00 L187.40,313.40 L188.50,302.00 L189.50,292.30 L190.50,282.00 L191.30,275.00 L192.00,270.50 L193.00,272.00 L194.50,278.00 L196.90,288.00 L198.80,298.00 L200.50,307.00 L202.00,314.00 L203.70,319.80 L205.50,322.50 L207.50,324.00 L210.00,326.50 L213.80,328.30 L216.00,328.50 L217.50,327.80 L220.60,327.00 L223.00,327.80 L225.00,328.75" fill="none" stroke="#222" stroke-width="1.15" stroke-linejoin="round"/>
<path d="M160.00,328.75 L163.00,327.50 L165.00,325.00 L167.00,318.00 L169.00,306.00 L170.50,295.00 L171.80,284.00 L172.80,274.00 L173.80,264.00 L175.00,256.30 L176.00,262.00 L177.00,275.00 L178.50,292.30 L180.00,303.00 L181.70,313.40 L183.00,321.00 L184.90,327.00 L188.00,328.75" fill="none" stroke="#111" stroke-width="1.0" stroke-linejoin="round" stroke-dasharray="1.1,0.7"/>
<path d="M155.00,328.75 L158.00,327.50 L160.50,324.00 L162.70,319.80 L165.00,312.00 L168.00,300.00 L169.50,290.00 L170.50,282.00 L171.30,276.00 L172.00,272.00 L172.80,271.10 L173.50,275.00 L174.20,273.00 L175.00,278.00 L176.00,284.00 L177.50,289.00 L179.60,292.30 L181.00,300.00 L182.80,309.20 L184.20,315.00 L186.00,319.80 L188.00,324.00 L190.00,326.50 L193.00,328.00 L200.00,328.75" fill="none" stroke="#222" stroke-width="1.1" stroke-linejoin="round"/>
<rect x="33.6" y="362.3" width="8" height="7.7" fill="none" stroke="#222" stroke-width="0.9" stroke-dasharray="1,1"/>
<rect x="33.6" y="374.9" width="7.8" height="7.3" fill="none" stroke="#222" stroke-width="1.1"/>
<text x="46.10" y="369.20" font-size="8.03" textLength="21.70" lengthAdjust="spacingAndGlyphs">Isotype</text>
<text x="46.10" y="381.10" font-size="8.03" textLength="22.20" lengthAdjust="spacingAndGlyphs">pH2AX</text>
<polyline points="72.5,362.8 74.7,362.8 74.7,383 72.5,383" fill="none" stroke="#222" stroke-width="0.9"/>
<text x="78.00" y="375.00" font-size="8.03" textLength="39.50" lengthAdjust="spacingAndGlyphs">No treatment</text>
<rect x="143" y="363" width="7.6" height="7.5" fill="#e18291" stroke="#777" stroke-width="0.6" stroke-dasharray="1,1"/>
<rect x="143" y="374.9" width="7.6" height="7.3" fill="#e18291" stroke="#222" stroke-width="1"/>
<text x="155.50" y="368.80" font-size="8.03" textLength="21.50" lengthAdjust="spacingAndGlyphs">Isotype</text>
<text x="155.50" y="380.50" font-size="8.03" textLength="22.50" lengthAdjust="spacingAndGlyphs">pH2AX</text>
<polyline points="183.5,362.8 185.7,362.8 185.7,383 183.5,383" fill="none" stroke="#222" stroke-width="0.9"/>
<text x="188.80" y="375.00" font-size="8.03" textLength="48.80" lengthAdjust="spacingAndGlyphs">6-MP (0.39 µM)</text>
<polygon points="237.00,363.80 239.80,365.30 237.00,366.80" fill="#111"/>
<text x="258.60" y="227.00" font-size="10.6" font-weight="bold" fill="#000">E</text>
<line x1="298.75" y1="258.40" x2="298.75" y2="372.50" stroke="#222" stroke-width="1.2"/>
<line x1="295.20" y1="259.05" x2="298.75" y2="259.05" stroke="#222" stroke-width="1"/>
<text x="292.40" y="262.00" font-size="8.47" text-anchor="end" textLength="8.90" lengthAdjust="spacingAndGlyphs">30</text>
<line x1="295.20" y1="272.75" x2="298.75" y2="272.75" stroke="#222" stroke-width="1"/>
<text x="292.40" y="275.70" font-size="8.47" text-anchor="end" textLength="8.90" lengthAdjust="spacingAndGlyphs">25</text>
<line x1="295.20" y1="286.45" x2="298.75" y2="286.45" stroke="#222" stroke-width="1"/>
<text x="292.40" y="289.40" font-size="8.47" text-anchor="end" textLength="8.90" lengthAdjust="spacingAndGlyphs">20</text>
<line x1="295.20" y1="300.15" x2="298.75" y2="300.15" stroke="#222" stroke-width="1"/>
<text x="292.40" y="303.10" font-size="8.47" text-anchor="end" textLength="8.90" lengthAdjust="spacingAndGlyphs">15</text>
<line x1="295.20" y1="313.85" x2="298.75" y2="313.85" stroke="#222" stroke-width="1"/>
<text x="292.40" y="316.80" font-size="8.47" text-anchor="end" textLength="8.90" lengthAdjust="spacingAndGlyphs">10</text>
<line x1="295.20" y1="327.55" x2="298.75" y2="327.55" stroke="#222" stroke-width="1"/>
<text x="292.40" y="330.50" font-size="8.47" text-anchor="end" textLength="4.45" lengthAdjust="spacingAndGlyphs">5</text>
<line x1="295.20" y1="341.25" x2="298.75" y2="341.25" stroke="#222" stroke-width="1"/>
<text x="292.40" y="344.20" font-size="8.47" text-anchor="end" textLength="4.45" lengthAdjust="spacingAndGlyphs">0</text>
<text x="266.30" y="299.70" font-size="8.8" text-anchor="middle" textLength="62.20" lengthAdjust="spacingAndGlyphs" transform="rotate(-90 266.30 299.70)">Fold change of pH2AX</text>
<text x="277.80" y="300.00" font-size="8.8" text-anchor="middle" textLength="58.00" lengthAdjust="spacingAndGlyphs" transform="rotate(-90 277.80 300.00)">after 6-MP exposure</text>
<line x1="309.05" y1="338.65" x2="309.05" y2="339.19" stroke="#222" stroke-width="0.9"/>
<line x1="307.65" y1="338.65" x2="310.45" y2="338.65" stroke="#222" stroke-width="0.9"/>
<rect x="303.75" y="339.19" width="10.60" height="2.06" fill="#c71e35"/>
<text x="309.05" y="351.30" font-size="7.92" text-anchor="middle" textLength="15.60" lengthAdjust="spacingAndGlyphs">sc01</text>
<line x1="330.65" y1="338.10" x2="330.65" y2="338.73" stroke="#222" stroke-width="0.9"/>
<line x1="329.25" y1="338.10" x2="332.05" y2="338.10" stroke="#222" stroke-width="0.9"/>
<rect x="325.35" y="338.73" width="10.60" height="2.52" fill="#c71e35"/>
<text x="330.65" y="351.30" font-size="7.92" text-anchor="middle" textLength="15.60" lengthAdjust="spacingAndGlyphs">sc02</text>
<line x1="352.25" y1="274.39" x2="352.25" y2="283.16" stroke="#222" stroke-width="0.9"/>
<line x1="350.85" y1="274.39" x2="353.65" y2="274.39" stroke="#222" stroke-width="0.9"/>
<rect x="346.95" y="283.16" width="10.60" height="58.09" fill="#c71e35"/>
<text x="352.25" y="351.30" font-size="7.92" text-anchor="middle" textLength="15.60" lengthAdjust="spacingAndGlyphs">sh01</text>
<line x1="373.85" y1="277.13" x2="373.85" y2="283.98" stroke="#222" stroke-width="0.9"/>
<line x1="372.45" y1="277.13" x2="375.25" y2="277.13" stroke="#222" stroke-width="0.9"/>
<rect x="368.55" y="283.98" width="10.60" height="57.27" fill="#c71e35"/>
<text x="373.85" y="351.30" font-size="7.92" text-anchor="middle" textLength="15.60" lengthAdjust="spacingAndGlyphs">sh02</text>
<line x1="395.45" y1="333.74" x2="395.45" y2="335.77" stroke="#222" stroke-width="0.9"/>
<line x1="394.05" y1="333.74" x2="396.85" y2="333.74" stroke="#222" stroke-width="0.9"/>
<rect x="390.15" y="335.77" width="10.60" height="5.48" fill="#c71e35"/>
<text x="395.45" y="351.30" font-size="7.92" text-anchor="middle" textLength="15.60" lengthAdjust="spacingAndGlyphs">sc01</text>
<line x1="417.05" y1="334.95" x2="417.05" y2="336.26" stroke="#222" stroke-width="0.9"/>
<line x1="415.65" y1="334.95" x2="418.45" y2="334.95" stroke="#222" stroke-width="0.9"/>
<rect x="411.75" y="336.26" width="10.60" height="4.99" fill="#c71e35"/>
<text x="417.05" y="351.30" font-size="7.92" text-anchor="middle" textLength="15.60" lengthAdjust="spacingAndGlyphs">sc02</text>
<line x1="438.65" y1="305.74" x2="438.65" y2="315.77" stroke="#222" stroke-width="0.9"/>
<line x1="437.25" y1="305.74" x2="440.05" y2="305.74" stroke="#222" stroke-width="0.9"/>
<rect x="433.35" y="315.77" width="10.60" height="25.48" fill="#c71e35"/>
<text x="438.65" y="351.30" font-size="7.92" text-anchor="middle" textLength="15.60" lengthAdjust="spacingAndGlyphs">sh01</text>
<line x1="460.25" y1="316.32" x2="460.25" y2="319.99" stroke="#222" stroke-width="0.9"/>
<line x1="458.85" y1="316.32" x2="461.65" y2="316.32" stroke="#222" stroke-width="0.9"/>
<rect x="454.95" y="319.99" width="10.60" height="21.26" fill="#c71e35"/>
<text x="460.25" y="351.30" font-size="7.92" text-anchor="middle" textLength="15.60" lengthAdjust="spacingAndGlyphs">sh02</text>
<line x1="298.75" y1="341.25" x2="470.75" y2="341.25" stroke="#222" stroke-width="1.35"/>
<line x1="384.50" y1="341.25" x2="384.50" y2="372.50" stroke="#222" stroke-width="1"/>
<line x1="470.75" y1="341.25" x2="470.75" y2="372.50" stroke="#222" stroke-width="1"/>
<text x="342.30" y="365.70" font-size="8.03" text-anchor="middle" textLength="12.50" lengthAdjust="spacingAndGlyphs">Kh1</text>
<text x="429.20" y="365.70" font-size="8.03" text-anchor="middle" textLength="9.30" lengthAdjust="spacingAndGlyphs">B7</text>
<polyline points="310.20,333.50 310.20,241.30 375.30,241.30 375.30,255.00" fill="none" stroke="#222" stroke-width="0.8"/>
<polyline points="310.20,247.50 352.80,247.50 352.80,253.80" fill="none" stroke="#222" stroke-width="0.8"/>
<polyline points="331.60,333.50 331.60,259.30 375.30,259.30 375.30,272.50" fill="none" stroke="#222" stroke-width="0.8"/>
<polyline points="331.60,265.00 352.80,265.00 352.80,271.30" fill="none" stroke="#222" stroke-width="0.8"/>
<circle cx="343.50" cy="237.80" r="1.05" fill="#222"/>
<circle cx="333.30" cy="243.90" r="1.05" fill="#222"/>
<circle cx="362.80" cy="255.60" r="1.05" fill="#222"/>
<circle cx="342.80" cy="261.50" r="1.05" fill="#222"/>
<line x1="393.75" y1="291.25" x2="458.75" y2="291.25" stroke="#222" stroke-width="0.8"/>
<circle cx="424.80" cy="287.70" r="1.05" fill="#222"/>
<circle cx="430.80" cy="287.70" r="1.05" fill="#222"/>
</svg>
</body></html>
